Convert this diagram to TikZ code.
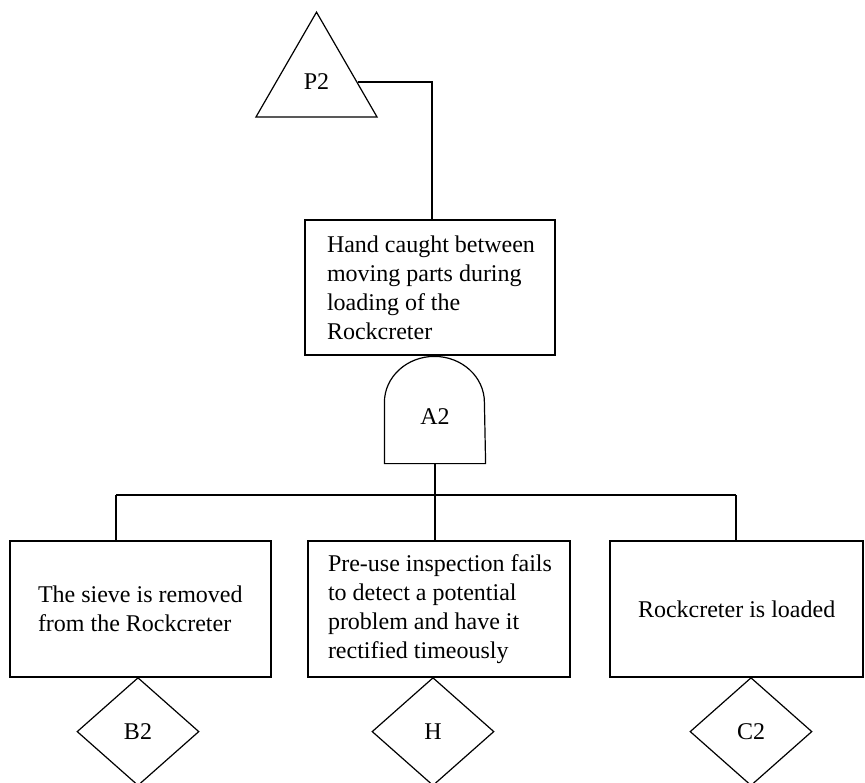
\documentclass[tikz,border=0pt]{standalone}
\usepackage{fontspec}
\setmainfont{Liberation Serif}
\usetikzlibrary{shapes.geometric}
\begin{document}
\begin{tikzpicture}[x=1pt,y=-1pt,line width=1.2pt,
  every node/.style={font=\fontsize{24}{29}\selectfont},
  evbox/.style={draw,rectangle,inner sep=0pt,minimum height=136pt},
  txt/.style={inner sep=0pt,align=left,anchor=west},
  basic/.style={draw,diamond,minimum width=122pt,minimum height=108pt,inner sep=0pt,anchor=north},
  transfer/.style={draw,regular polygon,regular polygon sides=3,minimum size=139.7pt,inner sep=0pt},
  gatebox/.style={minimum width=100pt,minimum height=106pt,inner sep=0pt}]
\useasboundingbox (0,0) rectangle (865,783);

% transfer triangle
\node[transfer] (tri) at (316.5,82) {P2};

% top event
\node[evbox,minimum width=250pt,minimum height=135pt] (top) at (430,287.5) {};
\node[txt] (topT) at ([xshift=22pt]top.west) {Hand caught between\\moving parts during\\loading of the\\Rockcreter};

\coordinate (jT) at (432,220);
\draw (tri.east) -| (jT);

% AND gate
\node[gatebox] (gate) at (435,410) {};
\draw (gate.south west) -- ([yshift=-46pt]gate.north west)
  arc[start angle=180,end angle=0,x radius=50pt,y radius=46pt]
  -- (gate.south east) -- cycle;
\node (gatelbl) at (435,417) {A2};

% lower events
\node[evbox,minimum width=261pt] (bL) at (140.5,609) {};
\node[txt] (bLT) at ([xshift=28pt]bL.west) {The sieve is removed\\from the Rockcreter};
\node[evbox,minimum width=262pt] (bM) at (439,609) {};
\node[txt] (bMT) at ([xshift=20pt]bM.west) {Pre-use inspection fails\\to detect a potential\\problem and have it\\rectified timeously};
\node[evbox,minimum width=253pt] (bR) at (736.5,609) {};
\node[txt] (bRT) at ([xshift=28pt]bR.west) {Rockcreter is loaded};

% connectors
\coordinate (jL) at (116,495);
\coordinate (jR) at (736,495);
\draw (jL) -- (jR);
\draw (gate.south) -- (gate.south |- bM.north);
\draw (jL) -- (jL |- bL.north);
\draw (jR) -- (jR |- bR.north);

% basic events
\node[basic] (B2) at (138,677) {B2};
\node[basic] (H) at (433,677) {H};
\node[basic] (C2) at (751,677) {C2};
\end{tikzpicture}
\end{document}
